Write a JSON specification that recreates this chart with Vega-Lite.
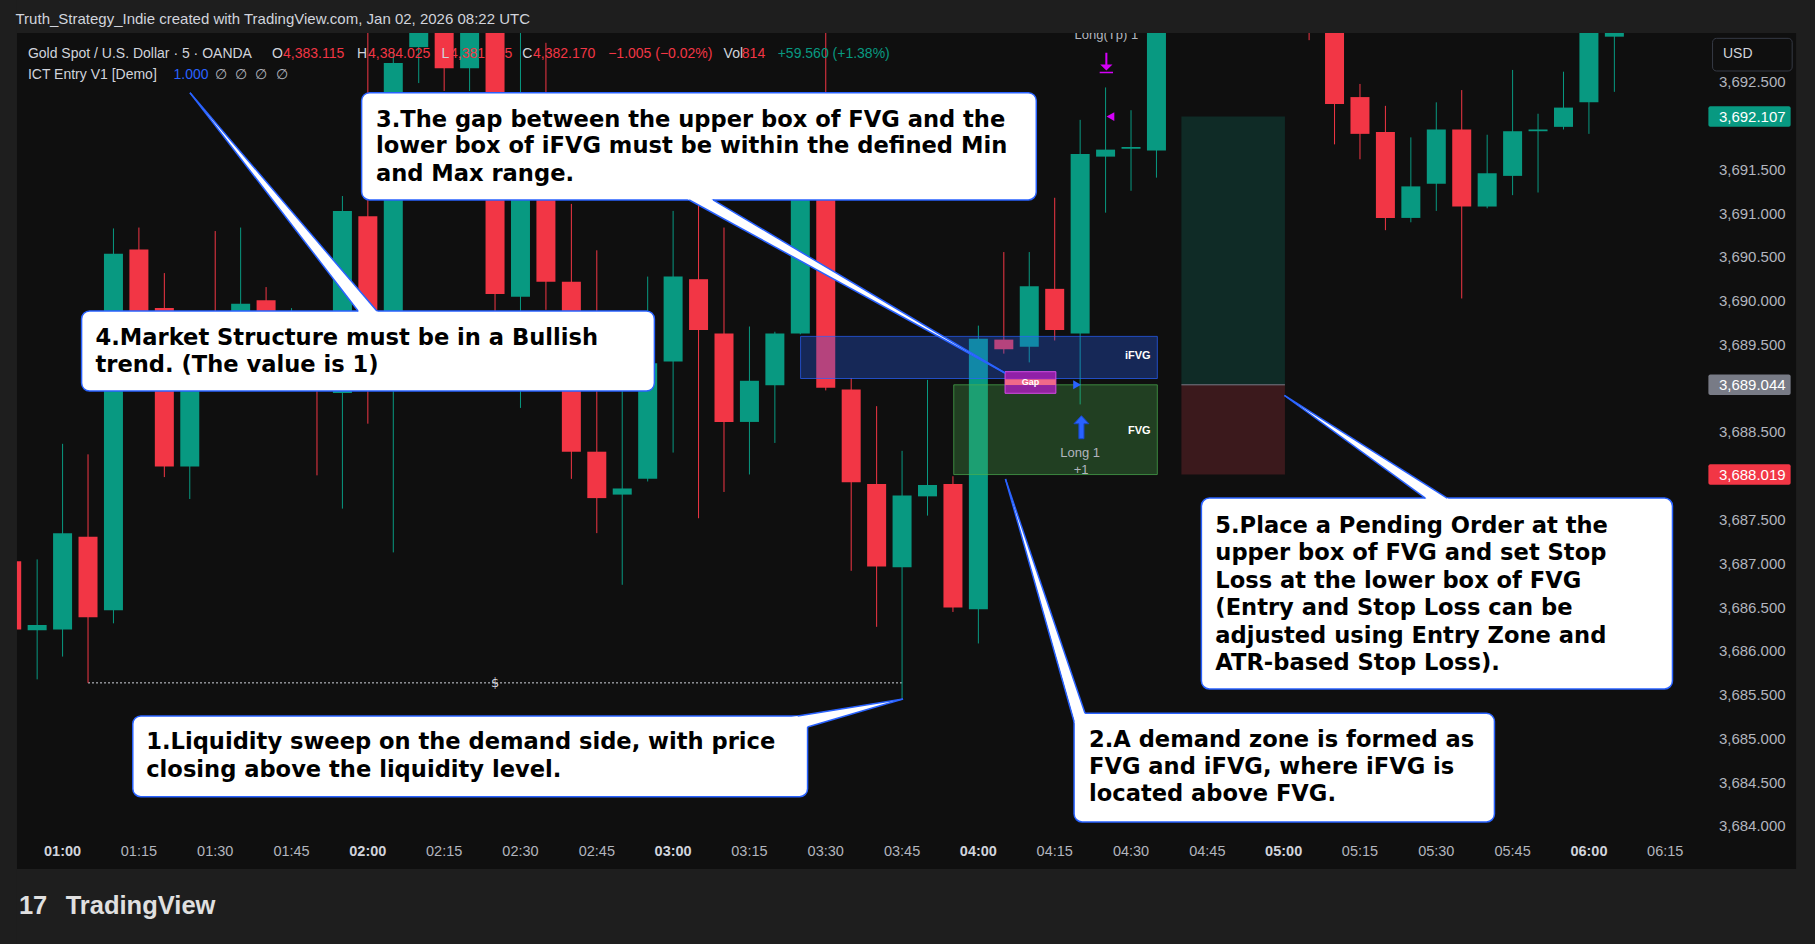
{
"$schema": "https://vega.github.io/schema/vega-lite/v6.json",
"width": 1815, "height": 944,
"autosize": {"type": "none"},
"padding": 0,
"background": "#1e1e1e",
"config": {"view": {"stroke": null}},
"encoding": {
 "x": {"field": "x", "type": "quantitative", "scale": {"domain": [-2.26349, 68.6904], "nice": false, "zero": false}, "axis": null},
 "y": {"field": "y", "type": "quantitative", "scale": {"domain": [3682.65761, 3693.43878], "nice": false, "zero": false}, "axis": null}
},
"datasets": {
 "pane": [{"x": -1.794, "x2": 68.143, "y": 3693.062, "y2": 3683.514}],
 "pos": [{"x": 43.98, "x2": 48.05, "y": 3692.107, "y2": 3689.044, "f": "#0f2b26"}, {"x": 43.98, "x2": 48.05, "y": 3689.044, "y2": 3688.019, "f": "#3b191c"}],
 "entry": [{"x": 43.98, "x2": 48.05, "y": 3689.044}],
 "liq": [{"x": 1.0, "x2": 33.0, "y": 3685.64}],
 "dollar": [{"x": 17.0, "y": 3685.64, "t": "$"}],
 "candles": [
  {"x": -2, "o": 3687.03, "h": 3687.25, "l": 3686.10, "c": 3686.25},
  {"x": -1, "o": 3686.24, "h": 3687.05, "l": 3685.68, "c": 3686.30},
  {"x": 0, "o": 3686.25, "h": 3688.37, "l": 3685.94, "c": 3687.35},
  {"x": 1, "o": 3687.31, "h": 3688.25, "l": 3685.64, "c": 3686.39},
  {"x": 2, "o": 3686.47, "h": 3690.83, "l": 3686.32, "c": 3690.54},
  {"x": 3, "o": 3690.59, "h": 3690.84, "l": 3689.10, "c": 3689.30},
  {"x": 4, "o": 3689.92, "h": 3690.32, "l": 3687.99, "c": 3688.11},
  {"x": 5, "o": 3688.11, "h": 3689.60, "l": 3687.74, "c": 3689.40},
  {"x": 6, "o": 3689.70, "h": 3690.80, "l": 3689.20, "c": 3689.40},
  {"x": 7, "o": 3689.30, "h": 3690.84, "l": 3689.10, "c": 3689.97},
  {"x": 8, "o": 3690.01, "h": 3690.16, "l": 3689.20, "c": 3689.40},
  {"x": 9, "o": 3689.50, "h": 3689.92, "l": 3689.20, "c": 3689.70},
  {"x": 10, "o": 3689.50, "h": 3689.70, "l": 3688.01, "c": 3689.00},
  {"x": 11, "o": 3688.95, "h": 3691.20, "l": 3687.63, "c": 3691.03},
  {"x": 12, "o": 3690.97, "h": 3693.30, "l": 3688.60, "c": 3689.20},
  {"x": 13, "o": 3689.30, "h": 3692.85, "l": 3687.13, "c": 3692.72},
  {"x": 14, "o": 3692.90, "h": 3693.50, "l": 3692.49, "c": 3693.30},
  {"x": 15, "o": 3693.30, "h": 3693.50, "l": 3692.40, "c": 3692.66},
  {"x": 16, "o": 3692.66, "h": 3693.50, "l": 3692.40, "c": 3693.30},
  {"x": 17, "o": 3693.30, "h": 3693.50, "l": 3689.80, "c": 3690.08},
  {"x": 18, "o": 3690.05, "h": 3693.20, "l": 3688.78, "c": 3691.80},
  {"x": 19, "o": 3691.60, "h": 3692.95, "l": 3689.90, "c": 3690.22},
  {"x": 20, "o": 3690.22, "h": 3691.11, "l": 3687.97, "c": 3688.28},
  {"x": 21, "o": 3688.28, "h": 3690.58, "l": 3687.35, "c": 3687.75},
  {"x": 22, "o": 3687.79, "h": 3689.30, "l": 3686.76, "c": 3687.86},
  {"x": 23, "o": 3687.97, "h": 3690.28, "l": 3687.94, "c": 3689.29},
  {"x": 24, "o": 3689.31, "h": 3691.03, "l": 3688.27, "c": 3690.28},
  {"x": 25, "o": 3690.25, "h": 3691.40, "l": 3687.52, "c": 3689.67},
  {"x": 26, "o": 3689.63, "h": 3690.84, "l": 3687.82, "c": 3688.62},
  {"x": 27, "o": 3688.62, "h": 3689.71, "l": 3688.02, "c": 3689.09},
  {"x": 28, "o": 3689.04, "h": 3689.65, "l": 3688.38, "c": 3689.63},
  {"x": 29, "o": 3689.63, "h": 3691.70, "l": 3689.62, "c": 3691.50},
  {"x": 30, "o": 3691.90, "h": 3693.30, "l": 3688.98, "c": 3689.01},
  {"x": 31, "o": 3688.99, "h": 3689.12, "l": 3686.92, "c": 3687.93},
  {"x": 32, "o": 3687.91, "h": 3688.80, "l": 3686.28, "c": 3686.97},
  {"x": 33, "o": 3686.96, "h": 3688.29, "l": 3685.46, "c": 3687.78},
  {"x": 34, "o": 3687.77, "h": 3689.10, "l": 3687.55, "c": 3687.90},
  {"x": 35, "o": 3687.91, "h": 3688.00, "l": 3686.45, "c": 3686.50},
  {"x": 36, "o": 3686.48, "h": 3689.72, "l": 3686.09, "c": 3689.57},
  {"x": 37, "o": 3689.56, "h": 3690.56, "l": 3689.40, "c": 3689.45},
  {"x": 38, "o": 3689.48, "h": 3690.56, "l": 3689.30, "c": 3690.17},
  {"x": 39, "o": 3690.14, "h": 3691.18, "l": 3689.55, "c": 3689.67},
  {"x": 40, "o": 3689.63, "h": 3692.07, "l": 3688.82, "c": 3691.68},
  {"x": 41, "o": 3691.65, "h": 3692.44, "l": 3691.01, "c": 3691.73},
  {"x": 42, "o": 3691.74, "h": 3692.18, "l": 3691.26, "c": 3691.76},
  {"x": 43, "o": 3691.72, "h": 3693.50, "l": 3691.41, "c": 3693.30},
  {"x": 49, "o": 3693.40, "h": 3693.50, "l": 3692.98, "c": 3693.20},
  {"x": 50, "o": 3693.30, "h": 3693.50, "l": 3691.79, "c": 3692.25},
  {"x": 51, "o": 3692.33, "h": 3692.48, "l": 3691.62, "c": 3691.91},
  {"x": 52, "o": 3691.93, "h": 3692.23, "l": 3690.81, "c": 3690.95},
  {"x": 53, "o": 3690.95, "h": 3691.87, "l": 3690.90, "c": 3691.31},
  {"x": 54, "o": 3691.34, "h": 3692.27, "l": 3691.03, "c": 3691.96},
  {"x": 55, "o": 3691.96, "h": 3692.41, "l": 3690.03, "c": 3691.08},
  {"x": 56, "o": 3691.08, "h": 3691.90, "l": 3691.06, "c": 3691.46},
  {"x": 57, "o": 3691.43, "h": 3692.64, "l": 3691.21, "c": 3691.94},
  {"x": 58, "o": 3691.94, "h": 3692.14, "l": 3691.24, "c": 3691.96},
  {"x": 59, "o": 3691.99, "h": 3692.62, "l": 3691.96, "c": 3692.21},
  {"x": 60, "o": 3692.27, "h": 3693.50, "l": 3691.91, "c": 3693.30},
  {"x": 61, "o": 3693.02, "h": 3693.50, "l": 3692.39, "c": 3693.30}
 ],
 "zones": [{"x": 29.011, "x2": 43.034, "y": 3689.597, "y2": 3689.116, "f": "#2962ff"}, {"x": 35.031, "x2": 43.034, "y": 3689.044, "y2": 3688.019, "f": "#4caf50"}],
 "gapbox": [{"x": 37.048, "x2": 39.046, "y": 3689.194, "y2": 3688.947}],
 "stripe": [{"x": 37.048, "x2": 39.046, "y": 3689.107, "y2": 3689.042}],
 "gaptext": [{"x": 38.047, "y": 3689.077, "t": "Gap"}],
 "zonelabels": [{"x": 42.772, "y": 3689.37, "t": "iFVG"}, {"x": 42.772, "y": 3688.521, "t": "FVG"}],
 "markers": [{"x": 39.879, "y": 3689.044, "s": "triangle-right", "c": "#2962ff"}, {"x": 41.19, "y": 3692.107, "s": "triangle-left", "c": "#d500f9"}],
 "arrowup": [{"x": 40.05, "y": 3688.560}],
 "arrowdown": [{"x": 41.03, "y": 3692.719}],
 "smalllabels": [{"x": 40.0, "y": 3688.262, "t": "Long 1"}, {"x": 40.04, "y": 3688.071, "t": "+1"}, {"x": 41.03, "y": 3693.044, "t": "Long(Tp) 1"}],
 "legend": [
  {"x": -1.364, "y": 3692.822, "t": "Gold Spot / U.S. Dollar · 5 · OANDA", "c": "#d1d4dc"},
  {"x": 8.233, "y": 3692.822, "t": "O", "c": "#d1d4dc"},
  {"x": 8.663, "y": 3692.822, "t": "4,383.115", "c": "#f23645"},
  {"x": 11.576, "y": 3692.822, "t": "H", "c": "#d1d4dc"},
  {"x": 12.006, "y": 3692.822, "t": "4,384.025", "c": "#f23645"},
  {"x": 14.898, "y": 3692.822, "t": "L", "c": "#d1d4dc"},
  {"x": 15.231, "y": 3692.822, "t": "4,381.705", "c": "#f23645"},
  {"x": 18.065, "y": 3692.822, "t": "C", "c": "#d1d4dc"},
  {"x": 18.495, "y": 3692.822, "t": "4,382.170", "c": "#f23645"},
  {"x": 21.447, "y": 3692.822, "t": "−1.005 (−0.02%)", "c": "#f23645"},
  {"x": 25.985, "y": 3692.822, "t": "Vol", "c": "#d1d4dc"},
  {"x": 26.70, "y": 3692.822, "t": "814", "c": "#f23645"},
  {"x": 28.11, "y": 3692.822, "t": "+59.560 (+1.38%)", "c": "#089981"},
  {"x": -1.364, "y": 3692.582, "t": "ICT Entry V1 [Demo]", "c": "#d1d4dc"},
  {"x": 4.363, "y": 3692.582, "t": "1.000", "c": "#2962ff"},
  {"x": 6.0, "y": 3692.582, "t": "∅", "c": "#b2b5be"},
  {"x": 6.782, "y": 3692.582, "t": "∅", "c": "#b2b5be"},
  {"x": 7.564, "y": 3692.582, "t": "∅", "c": "#b2b5be"},
  {"x": 8.385, "y": 3692.582, "t": "∅", "c": "#b2b5be"}
 ],
 "cboxes": [
  {"x": 11.755, "x2": 38.276, "y": 3692.380, "y2": 3691.155},
  {"x": 0.747, "x2": 23.264, "y": 3689.887, "y2": 3688.973},
  {"x": 2.760, "x2": 29.285, "y": 3685.262, "y2": 3684.340},
  {"x": 39.762, "x2": 56.286, "y": 3685.292, "y2": 3684.051},
  {"x": 44.766, "x2": 63.284, "y": 3687.751, "y2": 3685.570}
 ],
 "ptr": [
  {"id": "p3", "y": 3689.179, "x": 37.045, "x2": 37.045},
  {"id": "p3", "y": 3691.200, "x": 24.347, "x2": 25.305},
  {"id": "p4", "y": 3689.841, "x": 11.736, "x2": 12.490},
  {"id": "p4", "y": 3692.380, "x": 5.008, "x2": 5.008},
  {"id": "p1", "y": 3685.129, "x": 29.207, "x2": 29.207},
  {"id": "p1", "y": 3685.239, "x": 28.405, "x2": 30.493},
  {"id": "p1", "y": 3685.456, "x": 33.038, "x2": 33.038},
  {"id": "p2", "y": 3685.112, "x": 39.859, "x2": 39.859},
  {"id": "p2", "y": 3685.262, "x": 39.713, "x2": 40.227},
  {"id": "p2", "y": 3687.968, "x": 37.064, "x2": 37.064},
  {"id": "p5", "y": 3687.706, "x": 53.777, "x2": 54.672},
  {"id": "p5", "y": 3688.922, "x": 48.030, "x2": 48.030}
 ],
 "ptrl": [
  {"id": "l3a", "o": 0, "x": 24.633, "y": 3691.155}, {"id": "l3a", "o": 1, "x": 37.045, "y": 3689.179},
  {"id": "l3b", "o": 0, "x": 25.571, "y": 3691.155}, {"id": "l3b", "o": 1, "x": 37.045, "y": 3689.179},
  {"id": "l4a", "o": 0, "x": 11.615, "y": 3689.887}, {"id": "l4a", "o": 1, "x": 5.008, "y": 3692.380},
  {"id": "l4b", "o": 0, "x": 12.357, "y": 3689.887}, {"id": "l4b", "o": 1, "x": 5.008, "y": 3692.380},
  {"id": "l1a", "o": 0, "x": 28.894, "y": 3685.262}, {"id": "l1a", "o": 1, "x": 33.038, "y": 3685.456},
  {"id": "l1b", "o": 0, "x": 29.285, "y": 3685.136}, {"id": "l1b", "o": 1, "x": 33.038, "y": 3685.456},
  {"id": "l2a", "o": 0, "x": 39.762, "y": 3685.196}, {"id": "l2a", "o": 1, "x": 37.064, "y": 3687.968},
  {"id": "l2b", "o": 0, "x": 40.192, "y": 3685.292}, {"id": "l2b", "o": 1, "x": 37.064, "y": 3687.968},
  {"id": "l5a", "o": 0, "x": 53.569, "y": 3687.751}, {"id": "l5a", "o": 1, "x": 48.030, "y": 3688.922},
  {"id": "l5b", "o": 0, "x": 54.429, "y": 3687.751}, {"id": "l5b", "o": 1, "x": 48.030, "y": 3688.922}
 ],
 "ctext": [
  {"x": 12.318, "y": 3691.992, "t": "3.The gap between the upper box of FVG and the"},
  {"x": 12.318, "y": 3691.688, "t": "lower box of iFVG must be within the defined Min"},
  {"x": 12.318, "y": 3691.372, "t": "and Max range."},
  {"x": 1.294, "y": 3689.499, "t": "4.Market Structure must be in a Bullish"},
  {"x": 1.294, "y": 3689.194, "t": "trend. (The value is 1)"},
  {"x": 3.288, "y": 3684.885, "t": "1.Liquidity sweep on the demand side, with price"},
  {"x": 3.288, "y": 3684.568, "t": "closing above the liquidity level."},
  {"x": 40.348, "y": 3684.911, "t": "2.A demand zone is formed as"},
  {"x": 40.348, "y": 3684.602, "t": "FVG and iFVG, where iFVG is"},
  {"x": 40.348, "y": 3684.294, "t": "located above FVG."},
  {"x": 45.313, "y": 3687.356, "t": "5.Place a Pending Order at the"},
  {"x": 45.313, "y": 3687.042, "t": "upper box of FVG and set Stop"},
  {"x": 45.313, "y": 3686.728, "t": "Loss at the lower box of FVG"},
  {"x": 45.313, "y": 3686.414, "t": "(Entry and Stop Loss can be"},
  {"x": 45.313, "y": 3686.100, "t": "adjusted using Entry Zone and"},
  {"x": 45.313, "y": 3685.786, "t": "ATR-based Stop Loss)."}
 ],
 "bands": [{"x": -3.0, "x2": 68.7, "y": 3693.062, "y2": 3693.5}, {"x": -3.0, "x2": -1.794, "y": 3682.6, "y2": 3693.5}],
 "header": [{"x": -1.85, "y": 3693.222, "t": "Truth_Strategy_Indie created with TradingView.com, Jan 02, 2026 08:22 UTC"}],
 "plab": [
  {"x": 65.11, "y": 3684.0}, {"x": 65.11, "y": 3684.5}, {"x": 65.11, "y": 3685.0}, {"x": 65.11, "y": 3685.5},
  {"x": 65.11, "y": 3686.0}, {"x": 65.11, "y": 3686.5}, {"x": 65.11, "y": 3687.0}, {"x": 65.11, "y": 3687.5},
  {"x": 65.11, "y": 3688.5}, {"x": 65.11, "y": 3689.5},
  {"x": 65.11, "y": 3690.0}, {"x": 65.11, "y": 3690.5}, {"x": 65.11, "y": 3691.0}, {"x": 65.11, "y": 3691.5},
  {"x": 65.11, "y": 3692.5}
 ],
 "tags": [
  {"x": 64.696, "x2": 67.929, "y": 3692.224, "y2": 3691.990, "f": "#089981"},
  {"x": 64.696, "x2": 67.929, "y": 3689.161, "y2": 3688.927, "f": "#787b86"},
  {"x": 64.696, "x2": 67.929, "y": 3688.136, "y2": 3687.902, "f": "#f23645"}
 ],
 "tagtext": [
  {"x": 65.11, "y": 3692.107, "t": "3,692.107"},
  {"x": 65.11, "y": 3689.044, "t": "3,689.044"},
  {"x": 65.11, "y": 3688.019, "t": "3,688.019"}
 ],
 "usdbox": [{"x": 64.86, "x2": 67.99, "y": 3693.001, "y2": 3692.628}],
 "usdtext": [{"x": 65.27, "y": 3692.819, "t": "USD"}],
 "tmin": [
  {"x": 3, "y": 3683.708, "t": "01:15"}, {"x": 6, "y": 3683.708, "t": "01:30"}, {"x": 9, "y": 3683.708, "t": "01:45"},
  {"x": 15, "y": 3683.708, "t": "02:15"}, {"x": 18, "y": 3683.708, "t": "02:30"}, {"x": 21, "y": 3683.708, "t": "02:45"},
  {"x": 27, "y": 3683.708, "t": "03:15"}, {"x": 30, "y": 3683.708, "t": "03:30"}, {"x": 33, "y": 3683.708, "t": "03:45"},
  {"x": 39, "y": 3683.708, "t": "04:15"}, {"x": 42, "y": 3683.708, "t": "04:30"}, {"x": 45, "y": 3683.708, "t": "04:45"},
  {"x": 51, "y": 3683.708, "t": "05:15"}, {"x": 54, "y": 3683.708, "t": "05:30"}, {"x": 57, "y": 3683.708, "t": "05:45"},
  {"x": 63, "y": 3683.708, "t": "06:15"}
 ],
 "tmaj": [
  {"x": 0, "y": 3683.708, "t": "01:00"}, {"x": 12, "y": 3683.708, "t": "02:00"}, {"x": 24, "y": 3683.708, "t": "03:00"},
  {"x": 36, "y": 3683.708, "t": "04:00"}, {"x": 48, "y": 3683.708, "t": "05:00"}, {"x": 60, "y": 3683.708, "t": "06:00"}
 ],
 "logo": [{"x": -1.716, "y": 3683.092, "t": "17"}, {"x": 0.121, "y": 3683.092, "t": "TradingView"}]
},
"layer": [
 {"data": {"name": "pane"}, "mark": {"type": "rect", "fill": "#0f0f0f"}, "encoding": {"x2": {"field": "x2"}, "y2": {"field": "y2"}}},
 {"data": {"name": "pos"}, "mark": {"type": "rect"}, "encoding": {"x2": {"field": "x2"}, "y2": {"field": "y2"}, "fill": {"field": "f", "type": "nominal", "scale": null}}},
 {"data": {"name": "entry"}, "mark": {"type": "rule", "color": "#787b86", "strokeWidth": 1}, "encoding": {"x2": {"field": "x2"}}},
 {"data": {"name": "liq"}, "mark": {"type": "rule", "color": "#d1d4dc", "strokeWidth": 1, "strokeDash": [2, 2]}, "encoding": {"x2": {"field": "x2"}}},
 {"data": {"name": "dollar"}, "mark": {"type": "text", "font": "DejaVu Sans", "fontSize": 13, "color": "#d1d4dc", "align": "center", "baseline": "middle"}, "encoding": {"text": {"field": "t", "type": "nominal"}}},
 {"data": {"name": "candles"}, "mark": {"type": "rule", "strokeWidth": 1},
  "encoding": {"y": {"field": "l", "type": "quantitative", "scale": {"domain": [3682.65761, 3693.43878], "nice": false, "zero": false}, "axis": null}, "y2": {"field": "h"},
   "color": {"condition": {"test": "datum.c >= datum.o", "value": "#089981"}, "value": "#f23645"}}},
 {"data": {"name": "candles"}, "mark": {"type": "bar", "size": 19},
  "encoding": {"y": {"field": "o", "type": "quantitative", "scale": {"domain": [3682.65761, 3693.43878], "nice": false, "zero": false}, "axis": null}, "y2": {"field": "c"},
   "color": {"condition": {"test": "datum.c >= datum.o", "value": "#089981"}, "value": "#f23645"}}},
 {"data": {"name": "legend"}, "mark": {"type": "text", "font": "Liberation Sans", "fontSize": 14, "align": "left", "baseline": "middle"},
  "encoding": {"text": {"field": "t", "type": "nominal"}, "color": {"field": "c", "type": "nominal", "scale": null}}},
 {"data": {"name": "zones"}, "mark": {"type": "rect", "fillOpacity": 0.3, "strokeWidth": 1, "strokeOpacity": 0.7},
  "encoding": {"x2": {"field": "x2"}, "y2": {"field": "y2"}, "fill": {"field": "f", "type": "nominal", "scale": null}, "stroke": {"field": "f", "type": "nominal", "scale": null}}},
 {"data": {"name": "gapbox"}, "mark": {"type": "rect", "fill": "#a61fb5", "fillOpacity": 0.85, "stroke": "#d64ae6", "strokeWidth": 1}, "encoding": {"x2": {"field": "x2"}, "y2": {"field": "y2"}}},
 {"data": {"name": "stripe"}, "mark": {"type": "rect", "fill": "#f0688a"}, "encoding": {"x2": {"field": "x2"}, "y2": {"field": "y2"}}},
 {"data": {"name": "gaptext"}, "mark": {"type": "text", "font": "Liberation Sans", "fontSize": 9, "fontWeight": "bold", "color": "#ffffff", "align": "center", "baseline": "middle"}, "encoding": {"text": {"field": "t", "type": "nominal"}}},
 {"data": {"name": "zonelabels"}, "mark": {"type": "text", "font": "Liberation Sans", "fontSize": 11, "fontWeight": "bold", "color": "#ffffff", "align": "right", "baseline": "middle"}, "encoding": {"text": {"field": "t", "type": "nominal"}}},
 {"data": {"name": "markers"}, "mark": {"type": "point", "filled": true, "opacity": 1, "size": 80},
  "encoding": {"shape": {"field": "s", "type": "nominal", "scale": null}, "color": {"field": "c", "type": "nominal", "scale": null}}},
 {"data": {"name": "arrowup"}, "mark": {"type": "point", "filled": true, "opacity": 1, "size": 530, "color": "#2962ff", "stroke": "#1848c8", "strokeWidth": 1,
   "shape": "M0,-1L0.65,-0.3L0.22,-0.3L0.22,1L-0.22,1L-0.22,-0.3L-0.65,-0.3Z"}},
 {"data": {"name": "arrowdown"}, "mark": {"type": "point", "filled": true, "opacity": 1, "size": 420, "color": "#d500f9",
   "shape": "M-0.1,-1L0.1,-1L0.1,0.15L0.6,0.15L0,0.72L-0.6,0.15L-0.1,0.15Z M-0.65,0.85L0.65,0.85L0.65,1L-0.65,1Z"}},
 {"data": {"name": "smalllabels"}, "mark": {"type": "text", "font": "Liberation Sans", "fontSize": 13, "color": "#b2b5be", "align": "center", "baseline": "middle"}, "encoding": {"text": {"field": "t", "type": "nominal"}}},
 {"data": {"name": "cboxes"}, "mark": {"type": "rect", "fill": "#ffffff", "stroke": "#2962ff", "strokeWidth": 1.5, "cornerRadius": 8}, "encoding": {"x2": {"field": "x2"}, "y2": {"field": "y2"}}},
 {"data": {"name": "ptr"}, "mark": {"type": "area", "orient": "horizontal", "fill": "#ffffff", "opacity": 1},
  "encoding": {"x2": {"field": "x2"}, "detail": {"field": "id", "type": "nominal"}}},
 {"data": {"name": "ptrl"}, "mark": {"type": "line", "color": "#2962ff", "strokeWidth": 1.5},
  "encoding": {"detail": {"field": "id", "type": "nominal"}, "order": {"field": "o", "type": "quantitative"}}},
 {"data": {"name": "ctext"}, "mark": {"type": "text", "font": "DejaVu Sans", "fontSize": 22.6, "fontWeight": "bold", "color": "#000000", "align": "left", "baseline": "alphabetic"},
  "encoding": {"text": {"field": "t", "type": "nominal"}}},
 {"data": {"name": "bands"}, "mark": {"type": "rect", "fill": "#1e1e1e"}, "encoding": {"x2": {"field": "x2"}, "y2": {"field": "y2"}}},
 {"data": {"name": "header"}, "mark": {"type": "text", "font": "Liberation Sans", "fontSize": 15, "color": "#d1d4dc", "align": "left", "baseline": "middle"}, "encoding": {"text": {"field": "t", "type": "nominal"}}},
 {"data": {"name": "plab"}, "mark": {"type": "text", "font": "Liberation Sans", "fontSize": 15, "color": "#b2b5be", "align": "left", "baseline": "middle"},
  "encoding": {"text": {"field": "y", "type": "quantitative", "format": ",.3f"}}},
 {"data": {"name": "tags"}, "mark": {"type": "rect", "cornerRadius": 2}, "encoding": {"x2": {"field": "x2"}, "y2": {"field": "y2"}, "fill": {"field": "f", "type": "nominal", "scale": null}}},
 {"data": {"name": "tagtext"}, "mark": {"type": "text", "font": "Liberation Sans", "fontSize": 15, "color": "#ffffff", "align": "left", "baseline": "middle"}, "encoding": {"text": {"field": "t", "type": "nominal"}}},
 {"data": {"name": "usdbox"}, "mark": {"type": "rect", "fill": "#0f0f0f", "stroke": "#363a45", "strokeWidth": 1, "cornerRadius": 4}, "encoding": {"x2": {"field": "x2"}, "y2": {"field": "y2"}}},
 {"data": {"name": "usdtext"}, "mark": {"type": "text", "font": "Liberation Sans", "fontSize": 14, "color": "#d1d4dc", "align": "left", "baseline": "middle"}, "encoding": {"text": {"field": "t", "type": "nominal"}}},
 {"data": {"name": "tmin"}, "mark": {"type": "text", "font": "Liberation Sans", "fontSize": 14.5, "color": "#b2b5be", "align": "center", "baseline": "middle"}, "encoding": {"text": {"field": "t", "type": "nominal"}}},
 {"data": {"name": "tmaj"}, "mark": {"type": "text", "font": "Liberation Sans", "fontSize": 14.5, "fontWeight": "bold", "color": "#d1d4dc", "align": "center", "baseline": "middle"}, "encoding": {"text": {"field": "t", "type": "nominal"}}},
 {"data": {"name": "logo"}, "mark": {"type": "text", "font": "Liberation Sans", "fontSize": 25.5, "fontWeight": "bold", "color": "#e0e0e0", "align": "left", "baseline": "middle"}, "encoding": {"text": {"field": "t", "type": "nominal"}}}
]
}
